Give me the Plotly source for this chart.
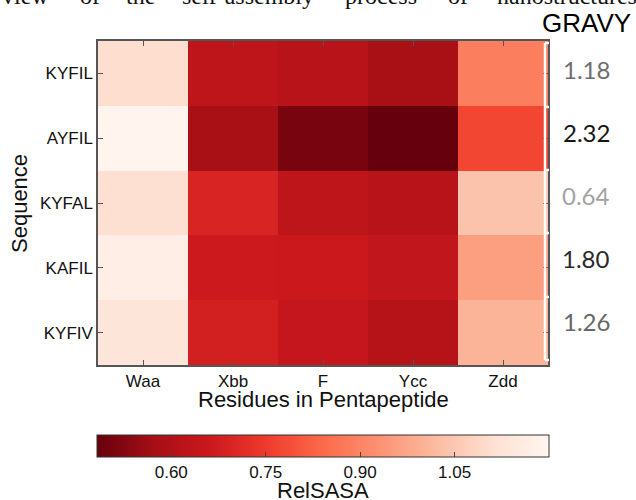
import plotly.graph_objects as go

sequences = ["KYFIL", "AYFIL", "KYFAL", "KAFIL", "KYFIV"]
residues = ["Waa", "Xbb", "F", "Ycc", "Zdd"]
relsasa = [
    [1.105, 0.630, 0.615, 0.580, 0.885],
    [1.195, 0.580, 0.505, 0.482, 0.770],
    [1.110, 0.695, 0.630, 0.615, 1.040],
    [1.170, 0.665, 0.662, 0.638, 0.960],
    [1.130, 0.680, 0.645, 0.610, 1.005],
]
gravy = ["1.18", "2.32", "0.64", "1.80", "1.26"]
gravy_colors = ["#6e6e6e", "#151515", "#a3a3a3", "#2a2a2a", "#666666"]
cbar_ticks = [0.60, 0.75, 0.90, 1.05]
top_words = ["view", "of", "the", "self-assembly", "process", "of", "nanostructures"]

reds_r = ["#67000d", "#a50f15", "#cb181d", "#ef3b2c", "#fb6a4a",
          "#fc9272", "#fcbba1", "#fee0d2", "#fff5f0"]
colorscale = [[i / 8, c] for i, c in enumerate(reds_r)]

SANS = "Liberation Sans, Arial, sans-serif"

# layout geometry (pixels)
W, H = 636, 500
L, R, T, B = 98, 88, 41, 135
PW, PH = W - L - R, H - T - B


def px(x):
    return (x - L) / PW


def py(y):
    return (H - B - y) / PH


fig = go.Figure()
fig.add_trace(go.Heatmap(
    z=relsasa, x=residues, y=sequences,
    colorscale=colorscale, zmin=0.482, zmax=1.20,
    colorbar=dict(
        orientation="h", x=px(323), xanchor="center",
        y=py(435), yanchor="top", ypad=0, xpad=0,
        lenmode="pixels", len=452, thickness=22,
        outlinecolor="#333333", outlinewidth=1,
        tickvals=cbar_ticks, ticktext=["%.2f" % t for t in cbar_ticks],
        ticks="inside", ticklen=5, tickcolor="#444444",
        tickfont=dict(family=SANS, size=17, color="#111111"),
        ticklabelposition="outside bottom",
    ),
    hoverinfo="skip",
))

fig.update_xaxes(
    showline=True, linecolor="#555555", linewidth=1.5, mirror="ticks",
    ticks="inside", ticklen=5, tickcolor="#555555",
    tickfont=dict(family=SANS, size=17, color="#111111"),
    showgrid=False, zeroline=False,
)
fig.update_yaxes(
    autorange="reversed",
    showline=True, linecolor="#555555", linewidth=1.5, mirror="ticks",
    ticks="inside", ticklen=5, tickcolor="#555555",
    tickfont=dict(family=SANS, size=17, color="#111111"),
    showgrid=False, zeroline=False,
)

annotations = []
for i, (g, c) in enumerate(zip(gravy, gravy_colors)):
    annotations.append(dict(
        x=px(586), xref="paper", y=py(69 + 63 * i), yref="paper",
        text=g, showarrow=False, xanchor="center", yanchor="middle",
        font=dict(family="Lato, Open Sans, sans-serif", size=24, color=c),
    ))
annotations.append(dict(
    x=px(633), xref="paper", xanchor="right",
    y=py(23), yref="paper", yanchor="middle",
    text="GRAVY", showarrow=False,
    font=dict(family=SANS, size=26, color="#000000"),
))
annotations.append(dict(
    x=px(323), xref="paper", xanchor="center",
    y=py(399), yref="paper", yanchor="middle",
    text="Residues in Pentapeptide", showarrow=False,
    font=dict(family=SANS, size=22, color="#111111"),
))
annotations.append(dict(
    x=px(19), xref="paper", xanchor="center",
    y=py(204), yref="paper", yanchor="middle", textangle=-90,
    text="Sequence", showarrow=False,
    font=dict(family=SANS, size=22, color="#111111"),
))
annotations.append(dict(
    x=px(323), xref="paper", xanchor="center",
    y=py(490), yref="paper", yanchor="middle",
    text="RelSASA", showarrow=False,
    font=dict(family=SANS, size=22, color="#111111"),
))
# cropped body text above the figure
word_x = [0, 78, 124, 180, 343, 446, 495]
for w, wx in zip(top_words, word_x):
    annotations.append(dict(
        x=px(wx), xref="paper", xanchor="left",
        y=py(-4), yref="paper", yanchor="middle",
        text=w, showarrow=False,
        font=dict(family="Liberation Serif, Times New Roman, serif", size=24, color="#111111"),
    ))

shapes = []
# white bracket along the right edge, grouping the GRAVY values
bx = 545
bounds = [43, 107, 170, 233, 297, 360]
shapes.append(dict(type="line", xref="paper", yref="paper",
                   x0=px(bx), x1=px(bx), y0=py(bounds[0]), y1=py(bounds[-1]),
                   line=dict(color="white", width=2.5)))
for yb in bounds:
    shapes.append(dict(type="line", xref="paper", yref="paper",
                       x0=px(bx), x1=px(549), y0=py(yb), y1=py(yb),
                       line=dict(color="white", width=2.5)))

fig.update_layout(
    width=W, height=H,
    margin=dict(l=L, r=R, t=T, b=B, autoexpand=False),
    paper_bgcolor="white", plot_bgcolor="white",
    annotations=annotations, shapes=shapes,
    font=dict(family=SANS),
)
fig.write_html("out.html")
